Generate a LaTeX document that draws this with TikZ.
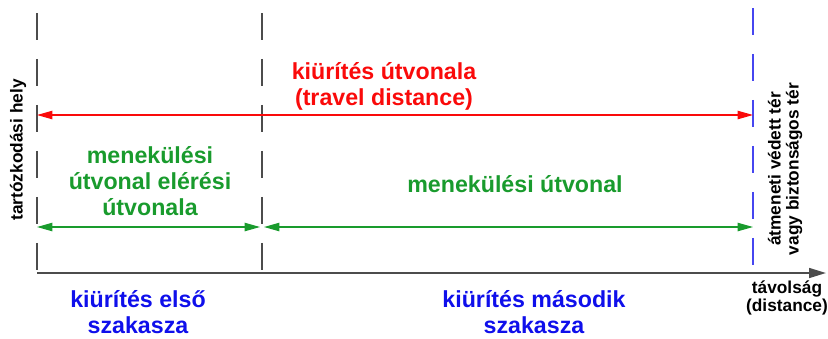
\documentclass[tikz,border=0pt]{standalone}
\usepackage{fontspec}
\setmainfont{Liberation Sans}
\usetikzlibrary{arrows.meta,positioning}
\usepackage{xcolor}
\definecolor{exitred}{RGB}{250,10,10}
\definecolor{exitgreen}{RGB}{25,155,45}
\definecolor{exitblue}{RGB}{15,15,235}
\definecolor{lineblue}{RGB}{70,70,240}
\tikzset{
  boundary/.style={draw=black!70,line width=1.1pt,dash pattern=on 19.5pt off 13.2pt},
  safeline/.style={boundary,draw=lineblue},
  distarrow/.style={<->,>={Triangle[length=11pt,width=6pt]},line width=0.8pt},
  bigtext/.style={font=\bfseries\fontsize{16.5}{18.4}\selectfont,align=center,inner sep=0pt},
  sidetext/.style={font=\bfseries\fontsize{12.3}{12.8}\selectfont,align=center,inner sep=0pt},
}

\begin{document}
\begin{tikzpicture}[x=0.025cm,y=-0.025cm]
\useasboundingbox (0,0) rectangle (828,338);

\coordinate (start top) at (37,13);
\coordinate (start) at (37,273);
\coordinate (mid top) at (262,13);
\coordinate (mid) at (262,273);
\coordinate (safe top) at (753,8);
\coordinate (safe) at (753,273);
\coordinate (axis end) at (826,273);

% boundaries and axis
\draw[boundary] (start top) -- (start);
\draw[boundary] (mid top) -- (mid);
\draw[safeline] (safe top) -- (safe);
\draw[black!70,line width=1.3pt,-{Triangle[length=12pt,width=7pt]}] (start) -- (axis end);

% distances
\coordinate (red left) at (37,115);
\coordinate (red right) at (753,115);
\coordinate (green left) at (37,227);
\coordinate (green mid l) at (260,227);
\coordinate (green mid r) at (264,227);
\coordinate (green right) at (753,227);
\draw[distarrow,exitred] (red left) -- (red right);
\draw[distarrow,exitgreen] (green left) -- (green mid l);
\draw[distarrow,exitgreen] (green mid r) -- (green right);

% labels
\node[bigtext,text=exitred] (travel) at (384,86) {kiürítés útvonala\\(travel distance)};
\node[bigtext,text=exitgreen] (access) at (150,181) {menekülési\\útvonal elérési\\útvonala};
\node[bigtext,text=exitgreen] (escape) at (515,184) {menekülési útvonal};
\node[bigtext,text=exitblue] (stage1) at (138,312) {kiürítés első\\szakasza};
\node[bigtext,text=exitblue] (stage2) at (534,312) {kiürítés második\\szakasza};
\node[sidetext,rotate=90] (occupant) at (18,150) {tartózkodási hely};
\node[sidetext,rotate=90] (refuge) at (785,169) {átmeneti védett tér\\vagy biztonságos tér};
\node[sidetext] (dist) at (787,298) {távolság\\(distance)};

\end{tikzpicture}
\end{document}
